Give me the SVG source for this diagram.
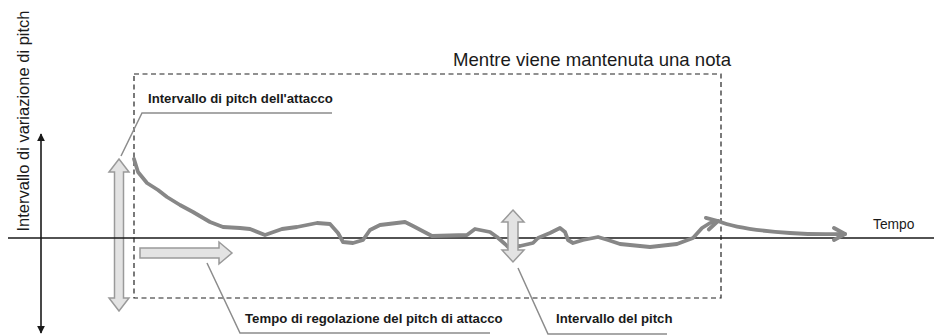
<svg xmlns="http://www.w3.org/2000/svg" width="934" height="336" viewBox="0 0 934 336">
<style>
text{font-family:"Liberation Sans",Arial,sans-serif;fill:#1a1a1a}
.b{font-weight:bold;font-size:13.2px}
.lead{fill:none;stroke:#8c8c8c;stroke-width:1.5}
.dbl{fill:#e3e3e3;stroke:#9a9a9a;stroke-width:1.5;stroke-linejoin:miter}
.curve{fill:none;stroke:#878787;stroke-width:3.8;stroke-linejoin:round;stroke-linecap:round}
</style>
<defs>
<marker id="ax" viewBox="0 0 10 10" refX="9" refY="5" markerWidth="8" markerHeight="8" markerUnits="userSpaceOnUse" orient="auto-start-reverse">
<path d="M0,0 L10,5 L0,10 Z" fill="#1a1a1a"/>
</marker>
<marker id="chev" viewBox="-14 -9 16 18" refX="0" refY="0" markerWidth="16" markerHeight="18" markerUnits="userSpaceOnUse" orient="auto">
<path d="M-11,-6 L0,0 L-11,6" fill="none" stroke="#878787" stroke-width="3.8" stroke-linejoin="round" stroke-linecap="round"/>
</marker>
</defs>

<g id="box">
<rect x="134" y="74" width="587" height="224" fill="none" stroke="#222" stroke-width="1.2" stroke-dasharray="5 3.5"/>
<text x="453" y="66" font-size="18.6">Mentre viene mantenuta una nota</text>
</g>

<g id="attack-range-arrow">
<path class="dbl" d="M119,159 L129,172 L123.5,172 L123.5,298 L129,298 L119,311 L109,298 L114.5,298 L114.5,172 L109,172 Z"/>
</g>

<g id="axes">
<line x1="41" y1="333" x2="41" y2="134" stroke="#1a1a1a" stroke-width="1.6" marker-start="url(#ax)" marker-end="url(#ax)"/>
<line x1="8" y1="238" x2="934" y2="238" stroke="#1a1a1a" stroke-width="1.6"/>
<text transform="translate(29,121) rotate(-90)" text-anchor="middle" font-size="16.5">Intervallo di variazione di pitch</text>
<text x="873" y="229" font-size="13.8">Tempo</text>
</g>

<g id="pitch-curve">
<polyline class="curve" marker-end="url(#chev)" points="134,159 138,172 147,183 158,190 167,197 180,205 193,212 210,222 223,227 240,228 250,229 265,235 282,229 297,227 317,223 330,224 338,233 343,242 353,243 363,240 370,230 380,225 405,222 413,226 432,236 467,235 475,229 490,232 497,237 505,244 508,247 520,246 533,243 538,238 550,233 560,228 565,232 568,240 573,243 583,240 598,237 608,240 620,244 650,247 677,244 693,238 702,228 710,223 718,221"/>
<path class="curve" marker-end="url(#chev)" d="M718,221 C735,228 760,231 790,233 S830,234 845,234"/>
</g>

<g id="settle-time-arrow">
<path class="dbl" d="M140,248 L219,248 L219,242 L232,253 L219,264 L219,258 L140,258 Z"/>
</g>

<g id="pitch-range-arrow">
<path class="dbl" d="M513,210 L524,222 L518,222 L518,250 L524,250 L513,262 L502,250 L508,250 L508,222 L502,222 Z"/>
</g>

<g id="connectors">
<polyline class="lead" points="121,156 142,113 332,113"/>
<polyline class="lead" points="207,263 240,333 490,333"/>
<polyline class="lead" points="518,268 548,334 667,334"/>
</g>

<g id="label-attack-range">
<text class="b" x="148" y="103">Intervallo di pitch dell'attacco</text>
</g>
<g id="label-settle-time">
<text class="b" x="245" y="323">Tempo di regolazione del pitch di attacco</text>
</g>
<g id="label-pitch-range">
<text class="b" x="556" y="323">Intervallo del pitch</text>
</g>
</svg>
